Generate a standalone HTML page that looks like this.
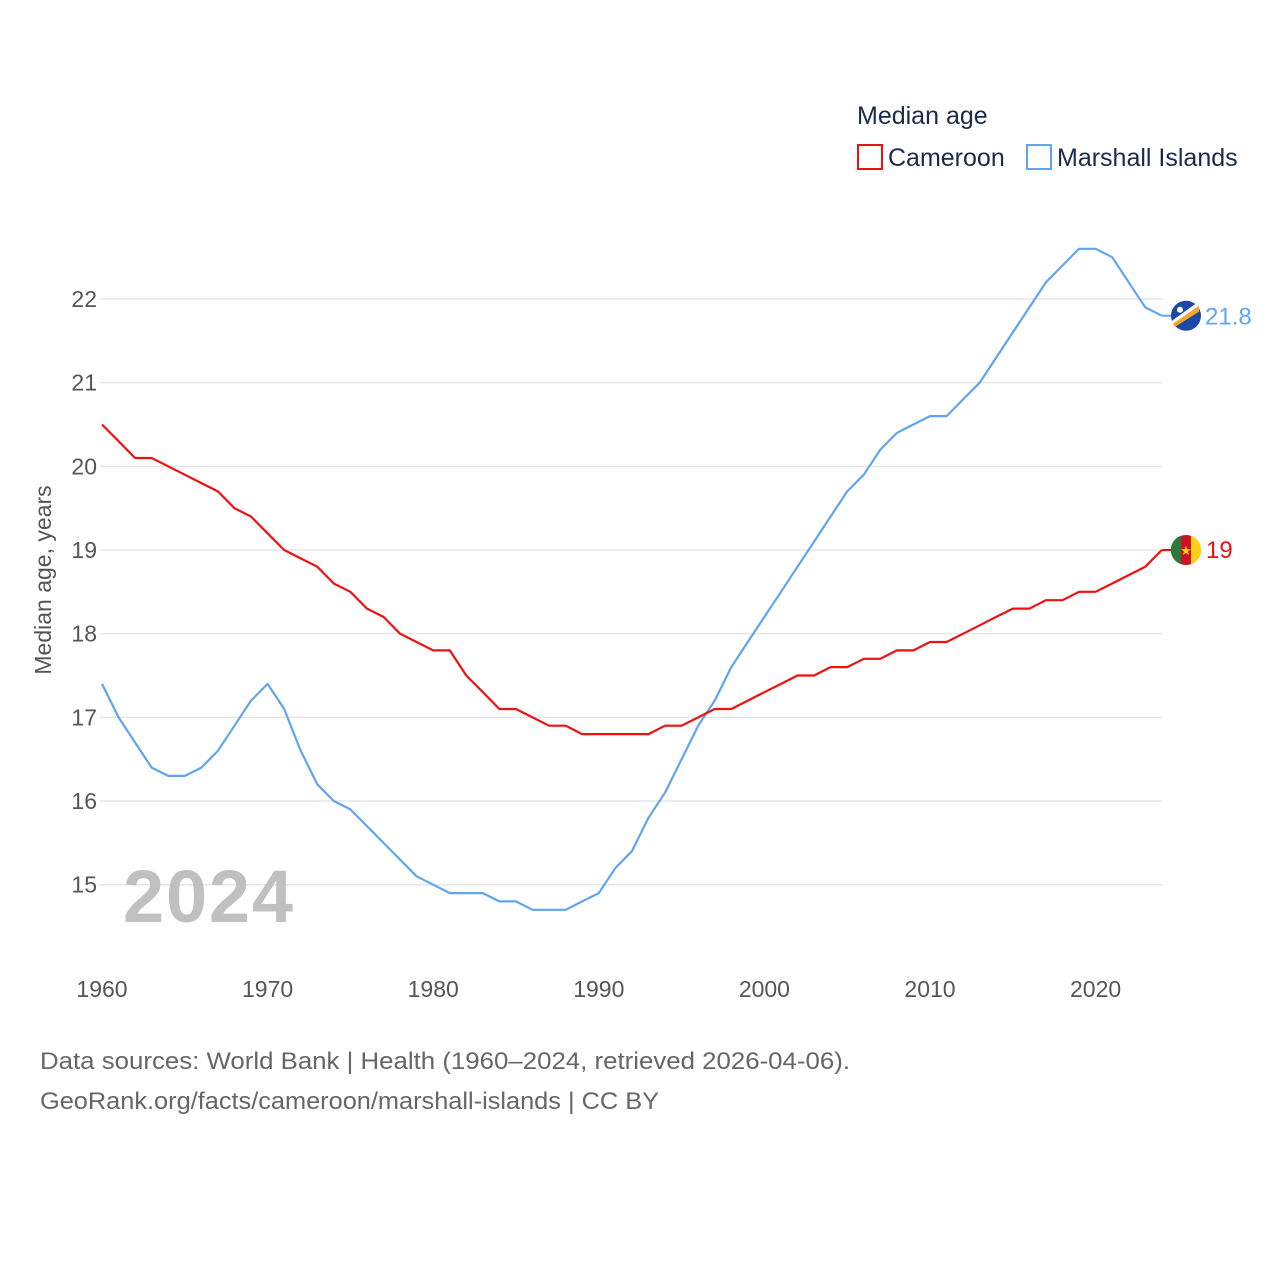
<!DOCTYPE html>
<html><head><meta charset="utf-8"><style>
body{margin:0;background:#fff;font-family:"Liberation Sans",sans-serif;}
svg text{font-family:"Liberation Sans",sans-serif;}
</style></head><body>
<svg id="chart" width="1280" height="1280" viewBox="0 0 1280 1280" xmlns="http://www.w3.org/2000/svg">
<rect width="1280" height="1280" fill="#fff"/>
<text x="857" y="124" font-size="25" fill="#1a2a4a">Median age</text>
<g>
<rect x="858" y="145" width="24" height="24" fill="none" stroke="#ee1111" stroke-width="2"/>
<text x="888" y="166" font-size="25" fill="#1a2a4a">Cameroon</text></g>
<g>
<rect x="1027" y="145" width="24" height="24" fill="none" stroke="#60a5ee" stroke-width="2"/>
<text x="1057" y="166" font-size="25" fill="#1a2a4a">Marshall Islands</text></g>
<g id="grid"></g><g id="series"></g>
<text x="123" y="922" font-size="74" font-weight="bold" fill="#c0c0c0" textLength="170">2024</text>
<text transform="translate(51,580) rotate(-90)" text-anchor="middle" font-size="23" fill="#555">Median age, years</text>
<text x="40" y="1069" font-size="24" fill="#666" textLength="810" lengthAdjust="spacingAndGlyphs">Data sources: World Bank | Health (1960–2024, retrieved 2026-04-06).</text>
<text x="40" y="1109" font-size="24" fill="#666" textLength="619" lengthAdjust="spacingAndGlyphs">GeoRank.org/facts/cameroon/marshall-islands | CC BY</text>
</svg>
<script>
const years=[];for(let y=1960;y<=2024;y++)years.push(y);
const cameroon=[20.5,20.3,20.1,20.1,20.0,19.9,19.8,19.7,19.5,19.4,19.2,19.0,18.9,18.8,18.6,18.5,18.3,18.2,18.0,17.9,17.8,17.8,17.5,17.3,17.1,17.1,17.0,16.9,16.9,16.8,16.8,16.8,16.8,16.8,16.9,16.9,17.0,17.1,17.1,17.2,17.3,17.4,17.5,17.5,17.6,17.6,17.7,17.7,17.8,17.8,17.9,17.9,18.0,18.1,18.2,18.3,18.3,18.4,18.4,18.5,18.5,18.6,18.7,18.8,19.0];
const marshall=[17.4,17.0,16.7,16.4,16.3,16.3,16.4,16.6,16.9,17.2,17.4,17.1,16.6,16.2,16.0,15.9,15.7,15.5,15.3,15.1,15.0,14.9,14.9,14.9,14.8,14.8,14.7,14.7,14.7,14.8,14.9,15.2,15.4,15.8,16.1,16.5,16.9,17.2,17.6,17.9,18.2,18.5,18.8,19.1,19.4,19.7,19.9,20.2,20.4,20.5,20.6,20.6,20.8,21.0,21.3,21.6,21.9,22.2,22.4,22.6,22.6,22.5,22.2,21.9,21.8];
const yTicks=[15,16,17,18,19,20,21,22];
const xTicks=[1960,1970,1980,1990,2000,2010,2020];
const NS="http://www.w3.org/2000/svg";
const x=v=>102+(v-1960)*16.56;
const y=v=>299+(22-v)*83.67;
const grid=document.getElementById('grid'),series=document.getElementById('series');
function mk(tag,attrs,parent,text){const e=document.createElementNS(NS,tag);for(const k in attrs)e.setAttribute(k,attrs[k]);if(text!==undefined)e.textContent=text;parent.appendChild(e);return e;}
yTicks.forEach(t=>{
 const l=mk('line',{x1:100,x2:1162,y1:y(t),y2:y(t),stroke:'#e6e6e6','stroke-width':1.5},grid);
 
 
 const tx=mk('text',{x:97,y:y(t)+8,'text-anchor':'end','font-size':23,fill:'#555'},grid,String(t));
 
 
});
xTicks.forEach(t=>{
 const tx=mk('text',{x:x(t),y:997,'text-anchor':'middle','font-size':23,fill:'#555'},grid,String(t));
 
 
});
function line(vals,color,name){
 const d=vals.map((v,i)=>(i?'L':'M')+x(years[i]).toFixed(1)+' '+y(v).toFixed(1)).join(' ');
 const p=mk('path',{d:d,fill:'none',stroke:color,'stroke-width':2.2,'stroke-linejoin':'round'},series);
 
 
}
line(marshall,'#60a5ee','marshall-islands-line');
line(cameroon,'#ee1111','cameroon-line');
const lastM=marshall[marshall.length-1],lastC=cameroon[cameroon.length-1];
const fm=mk('g',{},series);


mk('line',{x1:1162,y1:y(lastM),x2:1172,y2:y(lastM),stroke:'#60a5ee','stroke-width':2},fm);
mk('circle',{cx:1186,cy:y(lastM),r:15,fill:'#1b49a8'},fm);
mk('path',{d:`M1173 ${y(lastM)+8} L1199 ${y(lastM)-10} L1199 ${y(lastM)-4} L1175 ${y(lastM)+11}Z`,fill:'#f5a623'},fm);
mk('path',{d:`M1173 ${y(lastM)+8} L1199 ${y(lastM)-10} L1197 ${y(lastM)-13} L1172 ${y(lastM)+5}Z`,fill:'#fff'},fm);
mk('circle',{cx:1180,cy:y(lastM)-6,r:3,fill:'#fff'},fm);
const lm=mk('text',{x:1205,y:y(lastM)+9,'font-size':24,fill:'#60a5ee'},series,String(lastM));


const fc=mk('g',{},series);


mk('line',{x1:1162,y1:y(lastC),x2:1172,y2:y(lastC),stroke:'#ee1111','stroke-width':2},fc);
mk('circle',{cx:1186,cy:y(lastC),r:15,fill:'#ce1126'},fc);
mk('path',{d:`M1181 ${y(lastC)-14.2} A15 15 0 0 0 1181 ${y(lastC)+14.2} Z`,fill:'#2a7a3a'},fc);
mk('path',{d:`M1191 ${y(lastC)-14.2} A15 15 0 0 1 1191 ${y(lastC)+14.2} Z`,fill:'#fcd116'},fc);
mk('text',{x:1186,y:y(lastC)+5,'text-anchor':'middle','font-size':13,fill:'#fcd116'},fc,'★');
const lc=mk('text',{x:1206,y:y(lastC)+8,'font-size':24,fill:'#ee1111'},series,String(lastC));


</script>
</body></html>
